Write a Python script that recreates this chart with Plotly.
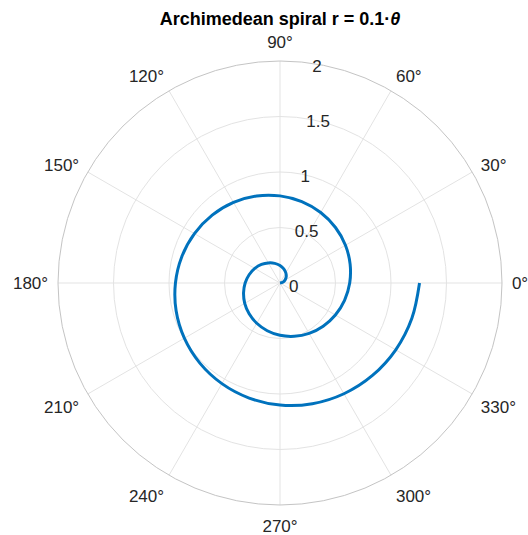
import plotly.graph_objects as go

# Spiral samples: angle (degrees) and radius
theta_deg = [0, 15, 30, 45, 60, 75, 90, 105, 120, 135, 150, 165, 180, 195, 210, 225,
             240, 255, 270, 285, 300, 315, 330, 345, 360, 375, 390, 405, 420, 435, 450,
             465, 480, 495, 510, 525, 540, 555, 570, 585, 600, 615, 630, 645, 660, 675,
             690, 705, 720]
r_vals = [0.0, 0.026, 0.052, 0.079, 0.105, 0.131, 0.157, 0.183, 0.209, 0.236, 0.262,
          0.288, 0.314, 0.340, 0.367, 0.393, 0.419, 0.445, 0.471, 0.497, 0.524, 0.550,
          0.576, 0.602, 0.628, 0.654, 0.681, 0.707, 0.733, 0.759, 0.785, 0.812, 0.838,
          0.864, 0.890, 0.916, 0.942, 0.969, 0.995, 1.021, 1.047, 1.073, 1.100, 1.126,
          1.152, 1.178, 1.204, 1.230, 1.257]
r_ticks = [0, 0.5, 1, 1.5, 2]
r_ticklabels = ["0", "0.5", "1", "1.5", "2"]
angle_ticks = [0, 30, 60, 90, 120, 150, 180, 210, 240, 270, 300, 330]
angle_ticklabels = ["0°", "30°", "60°", "90°", "120°", "150°", "180°", "210°",
                    "240°", "270°", "300°", "330°"]

fig = go.Figure()
fig.add_trace(go.Scatterpolar(
    r=r_vals, theta=theta_deg, mode="lines",
    line=dict(color="#0072BD", width=3, shape="spline"),
    showlegend=False, hoverinfo="skip"))

font_family = "Liberation Sans, Arial, Helvetica, sans-serif"
fig.update_layout(
    width=528, height=535,
    paper_bgcolor="white", plot_bgcolor="white",
    margin=dict(l=58, r=26, t=61, b=30, autoexpand=False),
    font=dict(family=font_family, size=17, color="#262626"),
    title=dict(text="<b>Archimedean spiral r = 0.1·<i>θ</i></b>",
               x=280 / 528, xanchor="center", y=1 - 18.5 / 535, yanchor="middle",
               font=dict(size=18, color="black", family=font_family)),
    polar=dict(
        domain=dict(x=[0, 1], y=[0, 1]),
        bgcolor="white",
        radialaxis=dict(range=[0, 2], tickvals=r_ticks, ticktext=r_ticklabels,
                        angle=84, tickangle=84, showline=False, ticks="",
                        gridcolor="#e3e3e3", gridwidth=1,
                        tickfont=dict(size=17, color="#262626")),
        angularaxis=dict(tickvals=angle_ticks, ticktext=angle_ticklabels,
                         direction="counterclockwise",
                         rotation=0, showline=True, linecolor="#c4c4c4", linewidth=1,
                         ticks="outside", ticklen=6, tickcolor="rgba(0,0,0,0)",
                         gridcolor="#e3e3e3", gridwidth=1,
                         tickfont=dict(size=17, color="#262626")),
    ),
)

fig.write_html("out.html", config={"displayModeBar": False},
               post_script="document.body.style.margin='0';document.body.style.overflow='hidden';")
